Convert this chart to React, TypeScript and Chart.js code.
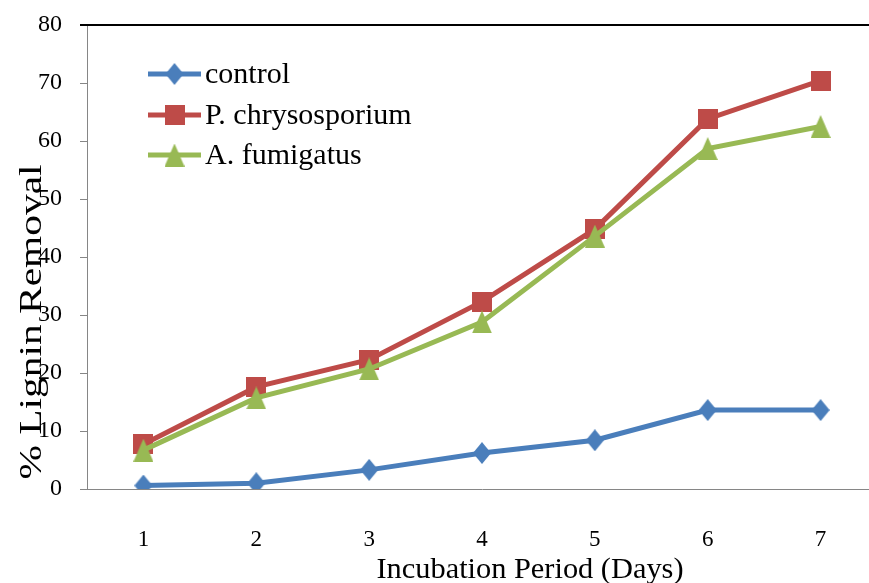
import React, { useEffect, useRef } from 'react';
import { Chart, registerables } from 'chart.js';

Chart.register(...registerables);

const days = ['1', '2', '3', '4', '5', '6', '7'];
const controlValues = [0.6, 1.0, 3.3, 6.2, 8.4, 13.6, 13.6];
const chrysosporiumValues = [7.7, 17.6, 22.3, 32.3, 44.8, 63.8, 70.4];
const fumigatusValues = [6.7, 15.7, 20.7, 28.8, 43.6, 58.7, 62.5];
const seriesNames = ['control', 'P. chrysosporium', 'A. fumigatus'];
const seriesColors = ['#4a7ebb', '#be4b48', '#98b954'];
const yMin = 0;
const yMax = 80;
const yStep = 10;
const xTitle = 'Incubation Period (Days)';
const yTitle = '% Lignin Removal';

const FONT = '"Liberation Serif", "Times New Roman", serif';

function makeMarker(kind: string, color: string): HTMLCanvasElement {
  const c = document.createElement('canvas');
  if (kind === 'diamond') { c.width = 18; c.height = 22; }
  else if (kind === 'square') { c.width = 20; c.height = 20; }
  else { c.width = 20; c.height = 23; }
  const ctx = c.getContext('2d') as CanvasRenderingContext2D;
  ctx.fillStyle = color;
  if (kind === 'diamond') {
    ctx.beginPath();
    ctx.moveTo(9, 0); ctx.lineTo(18, 11); ctx.lineTo(9, 22); ctx.lineTo(0, 11);
    ctx.closePath(); ctx.fill();
  } else if (kind === 'square') {
    ctx.fillRect(0, 0, 20, 20);
  } else {
    ctx.beginPath();
    ctx.moveTo(10, 0); ctx.lineTo(20, 23); ctx.lineTo(0, 23);
    ctx.closePath(); ctx.fill();
  }
  return c;
}

function fitText(ctx: CanvasRenderingContext2D, text: string, x: number, y: number, targetW: number, rotate: number) {
  const w = ctx.measureText(text).width;
  ctx.save();
  ctx.translate(x, y);
  ctx.rotate(rotate);
  ctx.scale(targetW / w, 1);
  ctx.fillText(text, 0, 0);
  ctx.restore();
}

export default function App() {
  const ref = useRef<HTMLCanvasElement | null>(null);

  useEffect(() => {
    if (!ref.current) return;
    const markers = [
      makeMarker('diamond', seriesColors[0]),
      makeMarker('square', seriesColors[1]),
      makeMarker('triangle', seriesColors[2]),
    ];
    const valuesList = [controlValues, chrysosporiumValues, fumigatusValues];

    const decor = {
      id: 'decor',
      afterDraw(chart: any) {
        const ctx: CanvasRenderingContext2D = chart.ctx;
        const area = chart.chartArea;
        ctx.save();
        ctx.fillStyle = '#000';
        ctx.fillRect(area.left - 7, area.top - 1, chart.width - (area.left - 7), 2);
        const legendY = [74, 115, 155];
        chart.data.datasets.forEach((ds: any, i: number) => {
          const y = legendY[i];
          ctx.strokeStyle = ds.borderColor;
          ctx.lineWidth = 5;
          ctx.beginPath();
          ctx.moveTo(148, y);
          ctx.lineTo(201, y);
          ctx.stroke();
          const m = markers[i];
          ctx.drawImage(m, 174.5 - m.width / 2, y - m.height / 2);
          ctx.fillStyle = '#000';
          ctx.font = '30px ' + FONT;
          ctx.textAlign = 'left';
          ctx.textBaseline = 'middle';
          ctx.fillText(ds.label, 205, y + 1);
        });
        ctx.fillStyle = '#000';
        ctx.font = '30px ' + FONT;
        ctx.textAlign = 'center';
        ctx.textBaseline = 'alphabetic';
        fitText(ctx, xTitle, 530, 578, 307, 0);
        ctx.font = '32px ' + FONT;
        fitText(ctx, yTitle, 41, 322, 315, -Math.PI / 2);
        ctx.restore();
      },
    };

    const chart = new Chart(ref.current, {
      type: 'line',
      data: {
        labels: days,
        datasets: seriesNames.map((name, i) => ({
          label: name,
          data: valuesList[i],
          borderColor: seriesColors[i],
          backgroundColor: seriesColors[i],
          borderWidth: 5,
          tension: 0,
          pointStyle: markers[i],
          pointRadius: 10,
          order: 2 - i,
        })),
      },
      options: {
        animation: false,
        responsive: false,
        devicePixelRatio: 1,
        layout: { padding: { top: 25, right: 1, left: 0, bottom: 0 } },
        plugins: {
          legend: { display: false },
          tooltip: { enabled: false },
          title: { display: false },
        },
        scales: {
          x: {
            type: 'category',
            offset: true,
            grid: { drawOnChartArea: false, drawTicks: false },
            border: { color: '#868686', width: 1 },
            ticks: { color: '#000', font: { family: FONT, size: 23 }, padding: 37, maxRotation: 0 },
            afterFit: (s: any) => { s.height = 94; s.paddingLeft = 0; s.paddingRight = 0; },
          },
          y: {
            min: yMin,
            max: yMax,
            grid: { drawOnChartArea: false, drawTicks: true, tickLength: 7, color: '#868686' },
            border: { color: '#868686', width: 1 },
            ticks: { stepSize: yStep, color: '#000', font: { family: FONT, size: 24 }, padding: 18 },
            afterFit: (s: any) => { s.width = 87; s.paddingTop = 0; s.paddingBottom = 0; },
          },
        },
      },
      plugins: [decor],
    } as any);
    return () => chart.destroy();
  }, []);

  return (
    <div style={{ position: 'fixed', left: 0, top: 0, width: 869, height: 583, overflow: 'hidden', background: '#fff' }}>
      <canvas ref={ref} width={892} height={583} style={{ display: 'block' }} />
    </div>
  );
}
